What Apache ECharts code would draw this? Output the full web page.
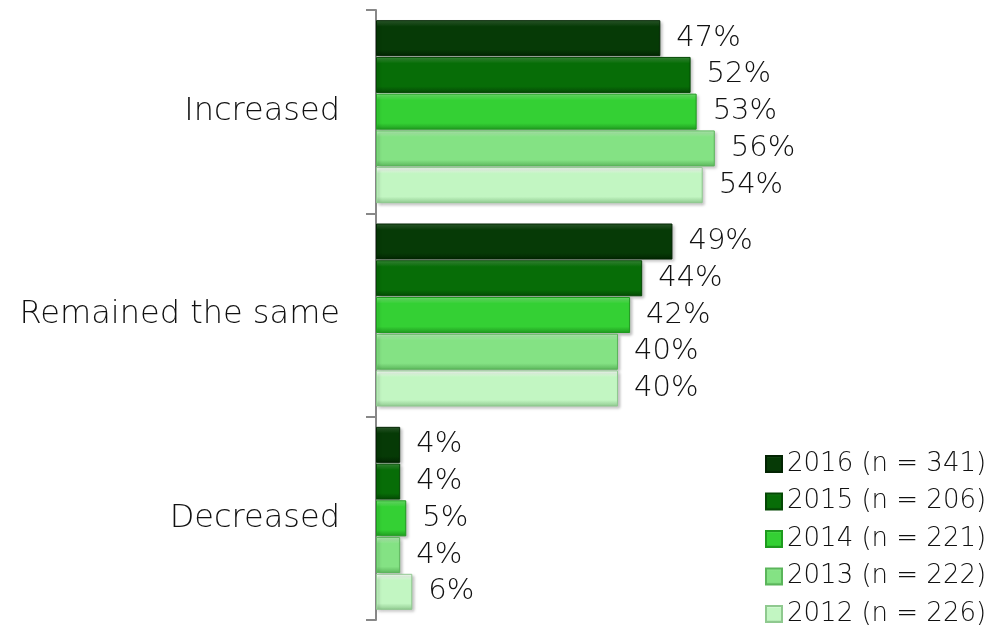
<!DOCTYPE html>
<html><head><meta charset="utf-8">
<script src="https://cdn.jsdelivr.net/npm/echarts@6/dist/echarts.min.js"></script>
<style>html,body{margin:0;padding:0;background:#fff}#c{width:1004px;height:633px}</style>
</head><body><div id="c"></div>
<script>
const categories = ['Increased', 'Remained the same', 'Decreased'];
const seriesNames = ['2016 (n = 341)', '2015 (n = 206)', '2014 (n = 221)', '2013 (n = 222)', '2012 (n = 226)'];
const v2016 = [47, 49, 4];
const v2015 = [52, 44, 4];
const v2014 = [53, 42, 5];
const v2013 = [56, 40, 4];
const v2012 = [54, 40, 6];
const values = [v2016, v2015, v2014, v2013, v2012];
const baseColors = [
  ['#2e5e2e', '#063a06', '#022402'],
  ['#3a8f3a', '#076d07', '#044804'],
  ['#70e870', '#34d034', '#1f9a1f'],
  ['#b8f2b8', '#84e284', '#5bb55b'],
  ['#ffffff', '#c2f6c2', '#8fc98f']
];
function grad(c) {
  return new echarts.graphic.LinearGradient(0, 0, 0, 1, [
    {offset: 0, color: c[0]}, {offset: 0.18, color: c[1]},
    {offset: 0.82, color: c[1]}, {offset: 1, color: c[2]}
  ]);
}
const FONT = 'DejaVu Sans';
const chart = echarts.init(document.getElementById('c'));
chart.setOption({
  animation: false,
  textStyle: {fontFamily: FONT},
  grid: {left: 376, top: 10, width: 605, bottom: 13, containLabel: false},
  xAxis: {type: 'value', min: 0, max: 100, show: false},
  yAxis: {
    type: 'category', data: categories, inverse: true,
    axisLine: {show: true, lineStyle: {color: '#888', width: 2}},
    axisTick: {show: true, inside: false, length: 10, lineStyle: {color: '#888', width: 2}},
    axisLabel: {fontSize: 32, color: '#111', margin: 36, fontFamily: FONT, fontWeight: 300}
  },
  legend: {
    orient: 'vertical', left: 760, top: 446,
    itemWidth: 16, itemHeight: 16, itemGap: 11.5,
    icon: 'rect',
    data: seriesNames,
    textStyle: {fontSize: 26, color: '#111', fontFamily: FONT, fontWeight: 300, padding: [0, 0, 0, 0]}
  },
  series: seriesNames.map((name, i) => ({
    name, type: 'bar', data: values[i],
    barGap: '2%', barCategoryGap: '10%',
    itemStyle: {color: grad(baseColors[i]), borderColor: baseColors[i][2], borderWidth: 1,
      shadowColor: 'rgba(0,0,0,0.25)', shadowBlur: 3, shadowOffsetX: 2, shadowOffsetY: 2},
    label: {show: true, position: 'right', distance: 16, fontSize: 29, color: '#111',
      fontFamily: FONT, fontWeight: 300, formatter: '{c}%'}
  }))
});
</script></body></html>
